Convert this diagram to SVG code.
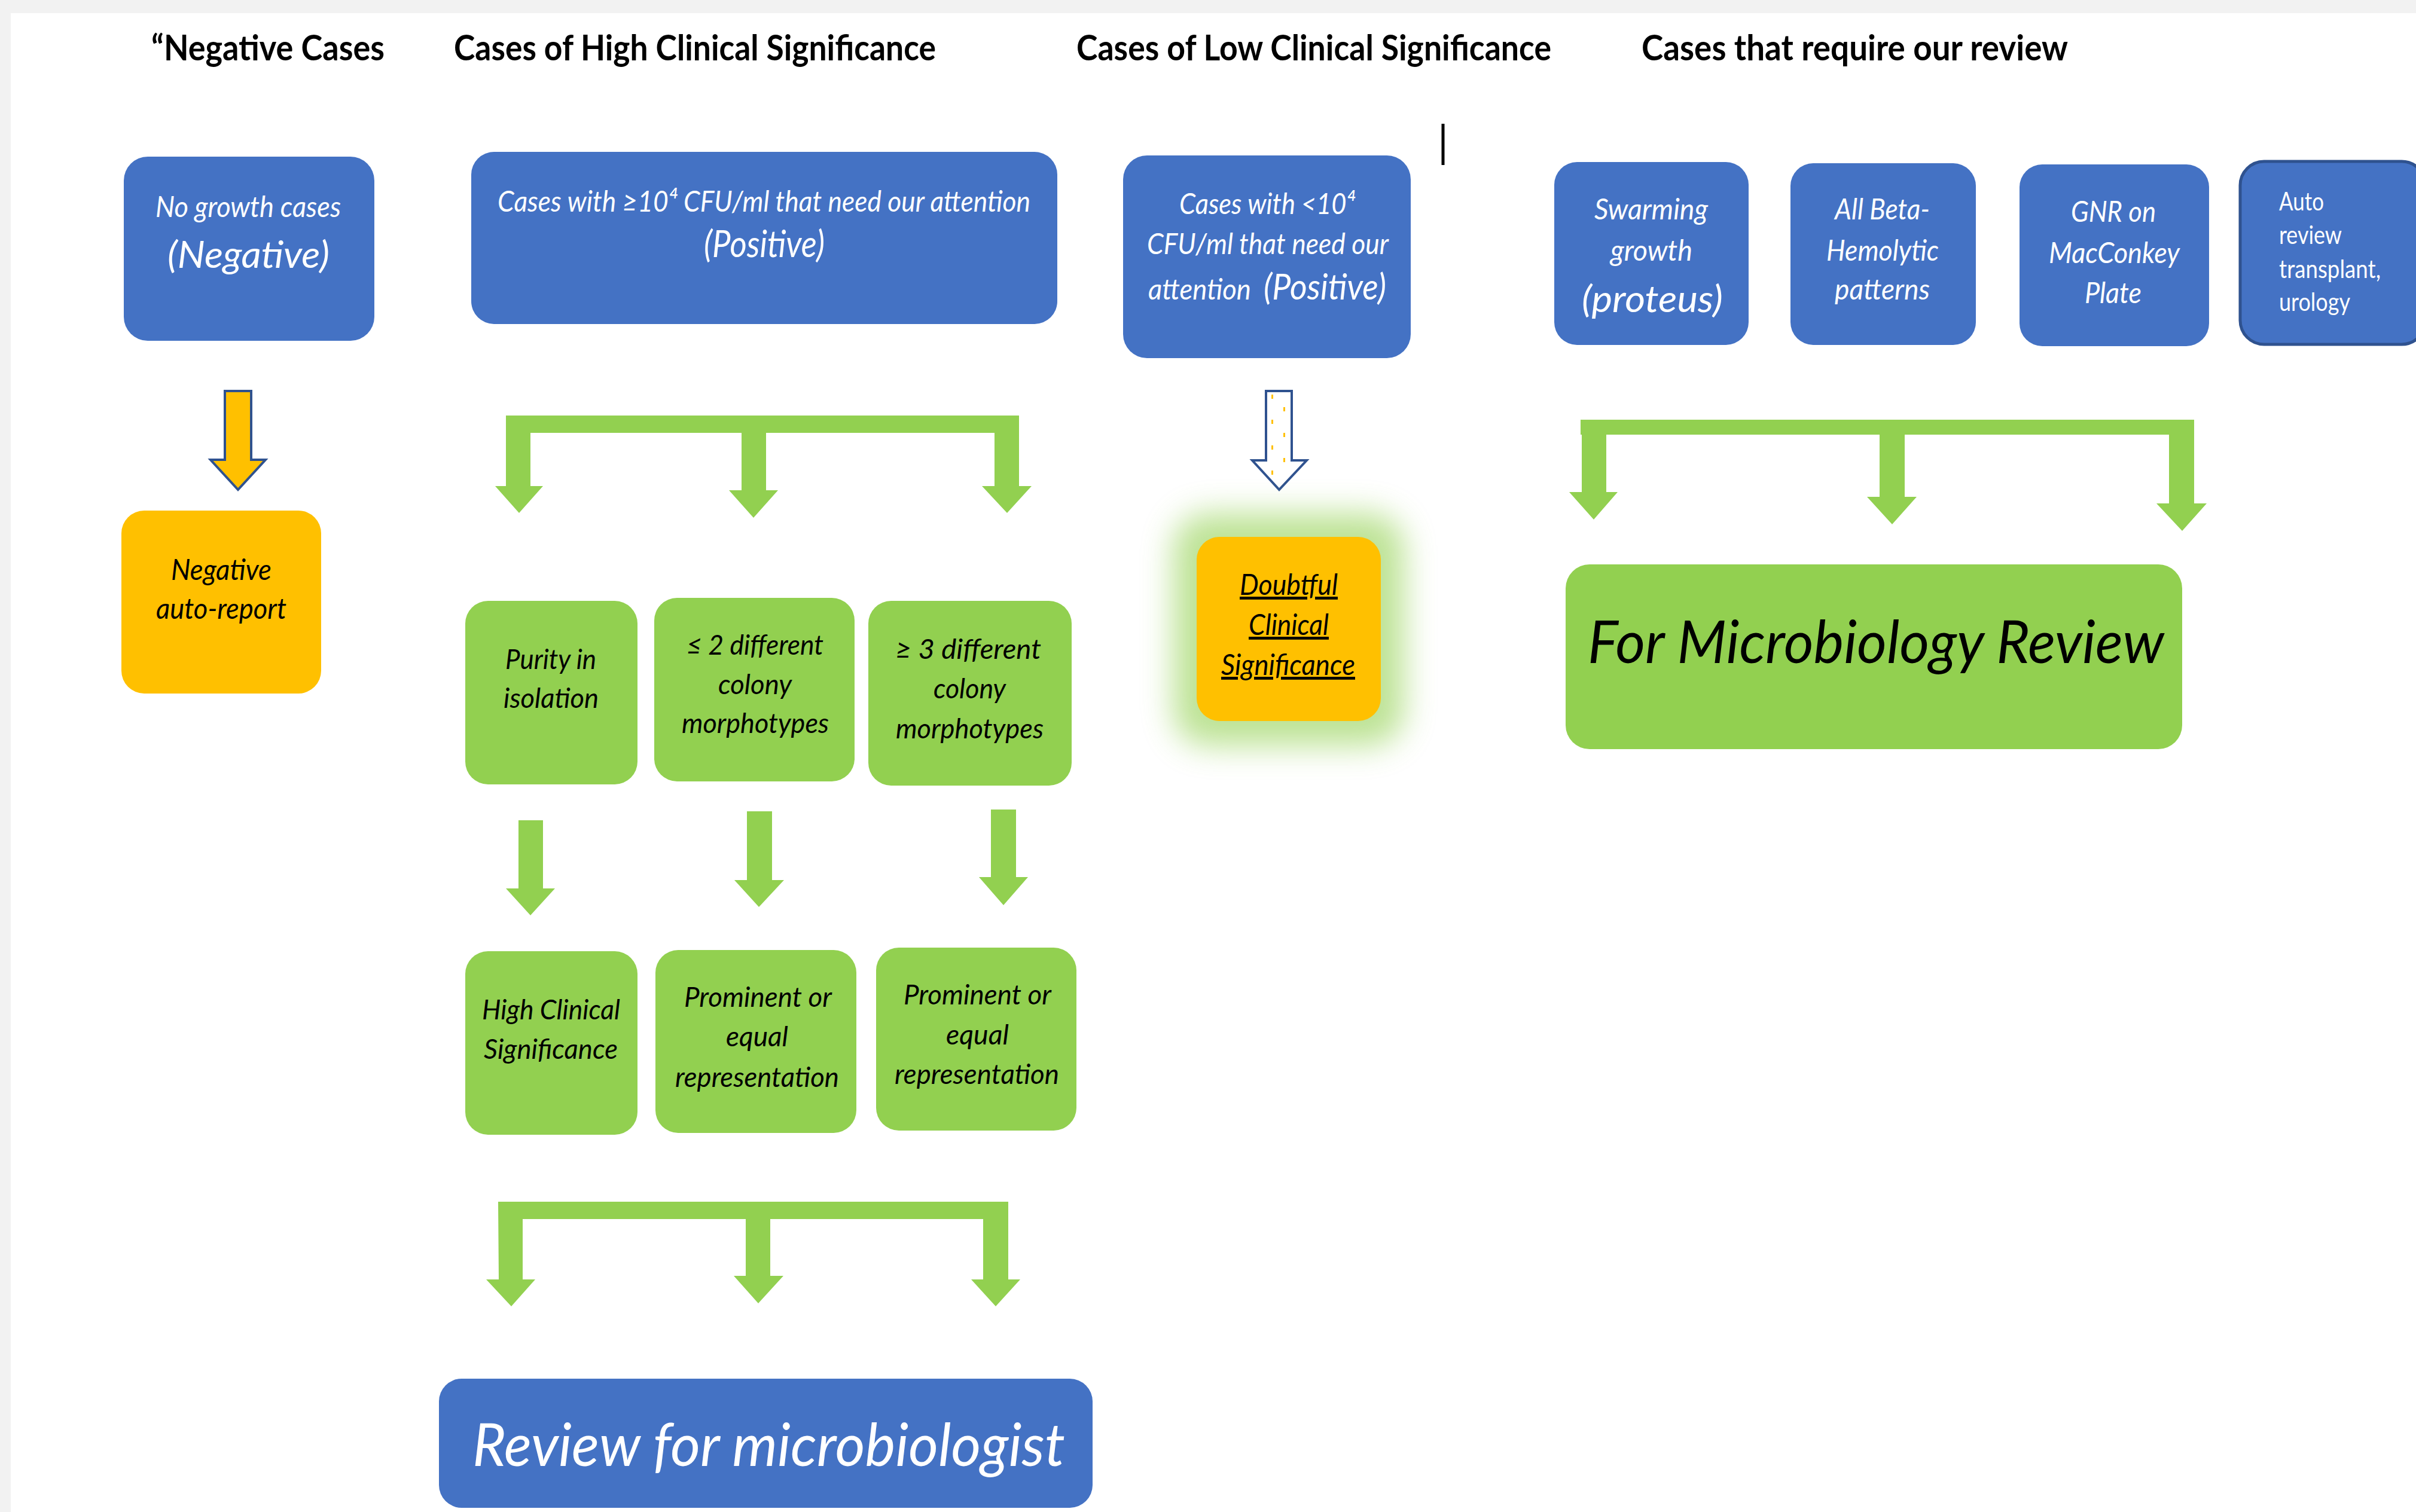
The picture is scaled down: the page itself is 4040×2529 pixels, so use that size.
<svg xmlns="http://www.w3.org/2000/svg" width="4040" height="2529" viewBox="0 0 4040 2529">
<defs>
<style>
.title{font-family:Lato,"Liberation Sans",sans-serif;font-weight:700;font-size:60px;fill:#000}
.blue{fill:#4472C4}
.green{fill:#92D050}
.yellow{fill:#FFC000}
.wt{font-family:Lato,"Liberation Sans",sans-serif;font-style:italic;font-weight:400;fill:#fff}
.bt{font-family:Lato,"Liberation Sans",sans-serif;font-style:italic;fill:#000}
.wr{font-family:Lato,"Liberation Sans",sans-serif;fill:#fff;font-size:42px}
.s45{font-size:48px}
.s60{font-size:62px}
.s42{font-size:47px}
.big{font-size:100px}
.arrow{fill:#92D050}
.outline{stroke:#2F528F;stroke-width:4;stroke-linejoin:miter}
</style>
<filter id="glow" x="-50%" y="-50%" width="200%" height="200%">
<feGaussianBlur stdDeviation="26"/>
</filter>
</defs>
<rect x="0" y="0" width="4040" height="2529" fill="#F2F2F2"/>
<rect x="18" y="22" width="4022" height="2507" fill="#FFFFFF"/>

<g id="titles">
<text class="title" x="253" y="101" textLength="390" lengthAdjust="spacingAndGlyphs">“Negative Cases</text>
<text class="title" x="759" y="101" textLength="806" lengthAdjust="spacingAndGlyphs">Cases of High Clinical Significance</text>
<text class="title" x="1800" y="101" textLength="794" lengthAdjust="spacingAndGlyphs">Cases of Low Clinical Significance</text>
<text class="title" x="2745" y="101" textLength="713" lengthAdjust="spacingAndGlyphs">Cases that require our review</text>
<line x1="2413" y1="207" x2="2413" y2="276" stroke="#000" stroke-width="5"/>
</g>

<g id="connectors">
<path class="yellow outline" d="M376,654 H420 V769 H444 L398,819 L352,769 H376 Z"/>
<g id="low-arrow">
<path fill="#FFFFFF" class="outline" d="M2117,654 H2160 V770 H2185 L2139,819 L2094,770 H2117 Z"/>
<g fill="#FFC000">
<rect x="2126" y="660" width="3" height="7"/>
<rect x="2146" y="681" width="3" height="7"/>
<rect x="2126" y="702" width="3" height="7"/>
<rect x="2146" y="724" width="3" height="7"/>
<rect x="2126" y="745" width="3" height="7"/>
<rect x="2146" y="766" width="3" height="7"/>
<rect x="2126" y="787" width="3" height="7"/>
</g>
</g>
<path class="arrow" d="M846,695 H1704 V813 H1725 L1684,858 L1642,813 H1663 V724 H1281 V820 H1301 L1260,866 L1219,820 H1240 V724 H887 V813 H908 L868,858 L828,813 H846 Z"/>
<path class="arrow" d="M2643,702 H3669 V842 H3690 L3649,888 L3606,842 H3627 V727 H3185 V831 H3205 L3164,877 L3122,831 H3143 V727 H2686 V823 H2705 L2665,869 L2624,823 H2645 V727 H2643 Z"/>
<path class="arrow" d="M867,1372 H908 V1486 H928 L887,1531 L846,1486 H867 Z"/>
<path class="arrow" d="M1249,1357 H1291 V1472 H1311 L1269,1517 L1228,1472 H1249 Z"/>
<path class="arrow" d="M1657,1354 H1699 V1467 H1719 L1678,1514 L1637,1467 H1657 Z"/>
<path class="arrow" d="M833,2010 H1686 V2140 H1706 L1665,2185 L1624,2140 H1644 V2039 H1288 V2134 H1310 L1268,2180 L1227,2134 H1247 V2039 H874 V2140 H895 L855,2185 L813,2140 H834 Z"/>
</g>

<g id="n-no-growth">
<rect class="blue" x="207" y="262" width="419" height="308" rx="40"/>
<text class="wt s45" x="260" y="363" textLength="310" lengthAdjust="spacingAndGlyphs">No growth cases</text>
<text class="wt s60" x="280" y="448" textLength="271" lengthAdjust="spacingAndGlyphs">(Negative)</text>
</g>

<g id="n-high-positive">
<rect class="blue" x="788" y="254" width="980" height="288" rx="38"/>
<text class="wt s45" x="832" y="354" textLength="891" lengthAdjust="spacingAndGlyphs">Cases with ≥10⁴ CFU/ml that need our attention</text>
<text class="wt s60" x="1177" y="430" textLength="202" lengthAdjust="spacingAndGlyphs">(Positive)</text>
</g>

<g id="n-low-positive">
<rect class="blue" x="1878" y="260" width="481" height="339" rx="40"/>
<text class="wt s45" x="1972" y="358" textLength="294" lengthAdjust="spacingAndGlyphs">Cases with &lt;10⁴</text>
<text class="wt s45" x="1918" y="425" textLength="404" lengthAdjust="spacingAndGlyphs">CFU/ml that need our</text>
<text class="wt s45" x="1920" y="501" textLength="172" lengthAdjust="spacingAndGlyphs">attention</text>
<text class="wt" font-size="60" x="2113" y="501" textLength="205" lengthAdjust="spacingAndGlyphs">(Positive)</text>
</g>

<g id="n-swarming">
<rect class="blue" x="2599" y="271" width="325" height="306" rx="38"/>
<text class="wt s45" x="2666" y="367" textLength="190" lengthAdjust="spacingAndGlyphs">Swarming</text>
<text class="wt s45" x="2693" y="436" textLength="137" lengthAdjust="spacingAndGlyphs">growth</text>
<text class="wt s60" x="2645" y="522" textLength="236" lengthAdjust="spacingAndGlyphs">(proteus)</text>
</g>

<g id="n-beta">
<rect class="blue" x="2994" y="273" width="310" height="304" rx="38"/>
<text class="wt s45" x="3068" y="367" textLength="159" lengthAdjust="spacingAndGlyphs">All Beta-</text>
<text class="wt s45" x="3054" y="436" textLength="188" lengthAdjust="spacingAndGlyphs">Hemolytic</text>
<text class="wt s45" x="3068" y="501" textLength="159" lengthAdjust="spacingAndGlyphs">patterns</text>
</g>

<g id="n-gnr">
<rect class="blue" x="3377" y="275" width="317" height="304" rx="38"/>
<text class="wt s45" x="3463" y="371" textLength="142" lengthAdjust="spacingAndGlyphs">GNR on</text>
<text class="wt s45" x="3426" y="440" textLength="219" lengthAdjust="spacingAndGlyphs">MacConkey</text>
<text class="wt s45" x="3486" y="507" textLength="95" lengthAdjust="spacingAndGlyphs">Plate</text>
</g>

<g id="n-auto">
<rect class="blue" x="3746" y="270" width="310" height="306" rx="40" stroke="#2F528F" stroke-width="5"/>
<text class="wr" x="3811" y="352" textLength="75" lengthAdjust="spacingAndGlyphs">Auto</text>
<text class="wr" x="3811" y="408" textLength="105" lengthAdjust="spacingAndGlyphs">review</text>
<text class="wr" x="3811" y="465" textLength="170" lengthAdjust="spacingAndGlyphs">transplant,</text>
<text class="wr" x="3811" y="520" textLength="119" lengthAdjust="spacingAndGlyphs">urology</text>
</g>

<g id="n-negative-report">
<rect class="yellow" x="203" y="854" width="334" height="306" rx="38"/>
<text class="bt s45" x="286" y="970" textLength="168" lengthAdjust="spacingAndGlyphs">Negative</text>
<text class="bt s45" x="261" y="1035" textLength="218" lengthAdjust="spacingAndGlyphs">auto-report</text>
</g>

<g id="n-doubtful">
<rect x="1962" y="858" width="386" height="390" rx="60" fill="#92D050" opacity="0.6" filter="url(#glow)"/>
<rect class="yellow" x="2001" y="898" width="308" height="308" rx="38"/>
<text class="bt s45" text-decoration="underline" x="2073" y="995" textLength="164" lengthAdjust="spacingAndGlyphs">Doubtful</text>
<text class="bt s45" text-decoration="underline" x="2088" y="1062" textLength="134" lengthAdjust="spacingAndGlyphs">Clinical</text>
<text class="bt s45" text-decoration="underline" x="2042" y="1129" textLength="224" lengthAdjust="spacingAndGlyphs">Significance</text>
</g>

<g id="n-purity">
<rect class="green" x="778" y="1005" width="288" height="307" rx="38"/>
<text class="bt s42" x="845" y="1119" textLength="152" lengthAdjust="spacingAndGlyphs">Purity in</text>
<text class="bt s42" x="842" y="1184" textLength="159" lengthAdjust="spacingAndGlyphs">isolation</text>
</g>

<g id="n-le2">
<rect class="green" x="1094" y="1000" width="335" height="307" rx="38"/>
<text class="bt s42" x="1148" y="1095" textLength="229" lengthAdjust="spacingAndGlyphs">≤ 2 different</text>
<text class="bt s42" x="1201" y="1161" textLength="123" lengthAdjust="spacingAndGlyphs">colony</text>
<text class="bt s42" x="1140" y="1226" textLength="246" lengthAdjust="spacingAndGlyphs">morphotypes</text>
</g>

<g id="n-ge3">
<rect class="green" x="1452" y="1005" width="340" height="309" rx="38"/>
<text class="bt s42" x="1497" y="1102" textLength="244" lengthAdjust="spacingAndGlyphs">≥  3 different</text>
<text class="bt s42" x="1561" y="1168" textLength="121" lengthAdjust="spacingAndGlyphs">colony</text>
<text class="bt s42" x="1498" y="1235" textLength="247" lengthAdjust="spacingAndGlyphs">morphotypes</text>
</g>

<g id="n-high-clinical">
<rect class="green" x="778" y="1591" width="288" height="307" rx="38"/>
<text class="bt s42" x="806" y="1705" textLength="231" lengthAdjust="spacingAndGlyphs">High Clinical</text>
<text class="bt s42" x="809" y="1771" textLength="224" lengthAdjust="spacingAndGlyphs">Significance</text>
</g>

<g id="n-prominent-1">
<rect class="green" x="1096" y="1589" width="336" height="306" rx="38"/>
<text class="bt s42" x="1144" y="1684" textLength="247" lengthAdjust="spacingAndGlyphs">Prominent or</text>
<text class="bt s42" x="1214" y="1750" textLength="104" lengthAdjust="spacingAndGlyphs">equal</text>
<text class="bt s42" x="1129" y="1818" textLength="274" lengthAdjust="spacingAndGlyphs">representation</text>
</g>

<g id="n-prominent-2">
<rect class="green" x="1465" y="1585" width="335" height="306" rx="38"/>
<text class="bt s42" x="1511" y="1680" textLength="247" lengthAdjust="spacingAndGlyphs">Prominent or</text>
<text class="bt s42" x="1582" y="1747" textLength="105" lengthAdjust="spacingAndGlyphs">equal</text>
<text class="bt s42" x="1496" y="1813" textLength="275" lengthAdjust="spacingAndGlyphs">representation</text>
</g>

<g id="n-micro-review">
<rect class="green" x="2618" y="944" width="1031" height="309" rx="40"/>
<text class="bt big" x="2655" y="1109" textLength="964" lengthAdjust="spacingAndGlyphs">For Microbiology Review</text>
</g>

<g id="n-review-microbiologist">
<rect class="blue" x="734" y="2306" width="1093" height="216" rx="38"/>
<text class="wt big" x="790" y="2452" textLength="991" lengthAdjust="spacingAndGlyphs">Review for microbiologist</text>
</g>
</svg>
